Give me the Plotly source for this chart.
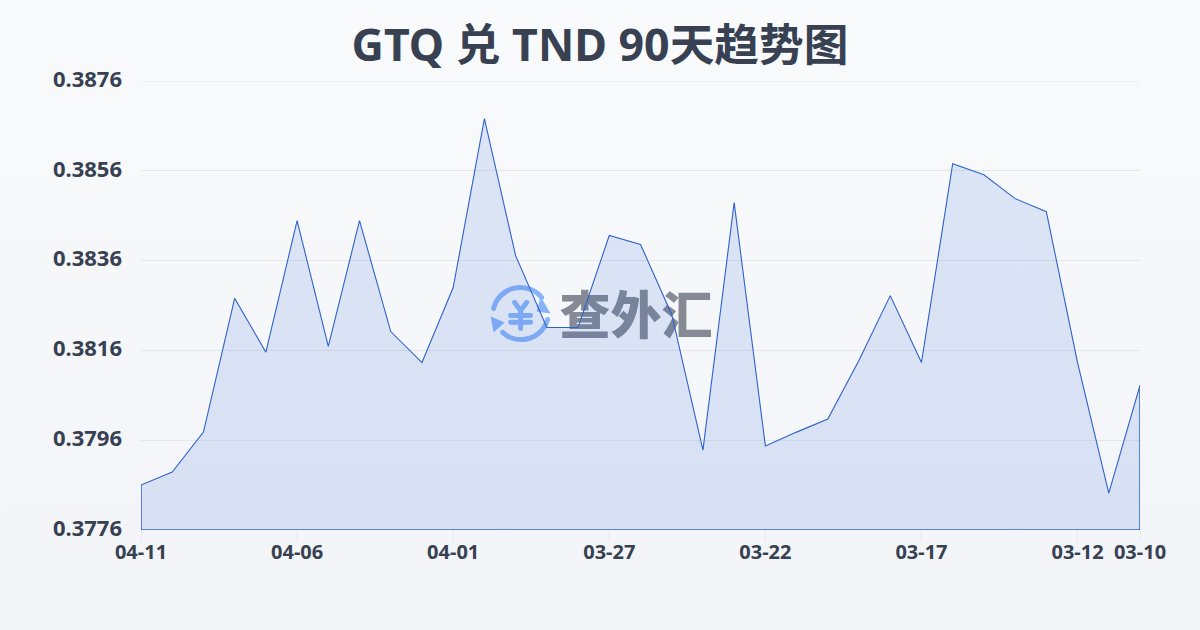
import base64
import plotly.graph_objects as go

dates = ["04-11","04-10","04-09","04-08","04-07","04-06","04-05","04-04","04-03","04-02","04-01",
         "03-31","03-30","03-29","03-28","03-27","03-26","03-25","03-24","03-23","03-22",
         "03-21","03-20","03-19","03-18","03-17","03-16","03-15","03-14","03-13","03-12","03-11","03-10"]
rates = [0.37860,0.37889,0.37978,0.38276,0.38156,0.38449,0.38169,0.38449,0.38202,0.38133,0.38300,
         0.38676,0.38371,0.38211,0.38211,0.38416,0.38396,0.38240,0.37938,0.38489,0.37947,
         0.37978,0.38007,0.38138,0.38282,0.38133,0.38576,0.38551,0.38498,0.38469,0.38133,0.37842,0.38082]
x_labels = ["04-11","04-06","04-01","03-27","03-22","03-17","03-12","03-10"]
y_ticks = [0.3776,0.3796,0.3816,0.3836,0.3856,0.3876]
title = "GTQ 兑 TND 90天趋势图"
watermark = "查外汇"

FONT = "Noto Sans, Noto Sans CJK SC, sans-serif"
INK = "#374151"
LINE = "#2f62c9"

bg_svg = ('<svg xmlns="http://www.w3.org/2000/svg" width="1200" height="630">'
          '<defs><linearGradient id="g" x1="0" y1="0" x2="0" y2="1">'
          '<stop offset="0" stop-color="#f8fafc"/><stop offset="1" stop-color="#f2f4f7"/>'
          '</linearGradient></defs><rect width="1200" height="630" fill="url(#g)"/></svg>')
logo_svg = ('<svg xmlns="http://www.w3.org/2000/svg" width="64" height="64" viewBox="0 0 64 64">'
            '<g fill="none" stroke="#8ab4f8" stroke-width="5" stroke-linecap="round" stroke-linejoin="round">'
            '<path d="M5 25 A27.5 27.5 0 0 1 53 14"/><path d="M59 36 A27.5 27.5 0 0 1 14 49"/>'
            '<path d="M26 19 L32 27 L38 19 M22 32 H42 M22 38.7 H42 M32 27 V45"/></g>'
            '<g fill="#8ab4f8"><path d="M52 13 L62 30 L48 28 Z"/><path d="M2 33 L16 39 L5 49 Z"/></g></svg>')
def uri(s):
    return "data:image/svg+xml;base64," + base64.b64encode(s.encode()).decode()

xs = list(range(len(dates)))
fig = go.Figure()
fig.add_trace(go.Scatter(
    x=[15.86], y=[0.38226], mode="text", text=[watermark], cliponaxis=False,
    textfont=dict(family="Noto Sans CJK SC", size=51, color="#858a94", weight=900),
    showlegend=False, hoverinfo="skip"))
fig.add_trace(go.Scatter(
    x=xs, y=rates, mode="lines", line=dict(color=LINE, width=1.1),
    fill="tozeroy", fillcolor="rgba(38,94,213,0.13)",
    showlegend=False, hoverinfo="skip"))
# closes the filled area along the baseline and at both ends, as in the reference
fig.add_trace(go.Scatter(
    x=[xs[0], xs[0], xs[-1], xs[-1]], y=[rates[0], y_ticks[0], y_ticks[0], rates[-1]],
    mode="lines", line=dict(color=LINE, width=1.5), showlegend=False, hoverinfo="skip", cliponaxis=False))

fig.update_layout(
    width=1200, height=630, margin=dict(l=140.5, r=59.5, t=80.5, b=99.5),
    paper_bgcolor="#f5f7fa", plot_bgcolor="rgba(0,0,0,0)",
    font=dict(family=FONT, color=INK),
    title=dict(text=title, x=0.5, xanchor="center", y=0.928, yanchor="middle",
               font=dict(family=FONT, size=44.7, color=INK, weight=700)),
    shapes=[dict(type="line", xref="paper", yref="y", x0=0, x1=1, y0=y_ticks[-1], y1=y_ticks[-1],
                 line=dict(color="#e5e7eb", width=1), layer="below")],
    images=[
        dict(source=uri(bg_svg), xref="paper", yref="paper", x=-141/1000, y=(450+81)/450,
             sizex=1202/1000, sizey=632/450, xanchor="left", yanchor="top",
             sizing="stretch", layer="below"),
        dict(source=uri(logo_svg), xref="x", yref="y", x=11.136, y=0.383089,
             sizex=2.048, sizey=0.001422, xanchor="left", yanchor="top",
             sizing="stretch", layer="below"),
    ],
    xaxis=dict(range=[0, len(dates)-1], tickmode="array",
               tickvals=[dates.index(d) for d in x_labels], ticktext=x_labels,
               showgrid=False, zeroline=False, showline=False,
               ticks="outside", ticklen=10, tickcolor="#e5e7eb", tickwidth=1, ticklabelstandoff=-6,
               tickfont=dict(family=FONT, size=20, color=INK, weight=700)),
    yaxis=dict(range=[y_ticks[0], y_ticks[-1]], tickmode="array",
               tickvals=y_ticks, ticktext=[f"{v:.4f}" for v in y_ticks],
               showgrid=True, gridcolor="#e5e7eb", gridwidth=1, zeroline=False, showline=False,
               ticks="", ticklabelstandoff=18, ticklabelshift=-2,
               tickfont=dict(family=FONT, size=22, color=INK, weight=700)),
)
fig.write_html("out.html", config=dict(displayModeBar=False),
               post_script="document.body.style.margin='0';document.body.style.background='#f5f7fa';")
